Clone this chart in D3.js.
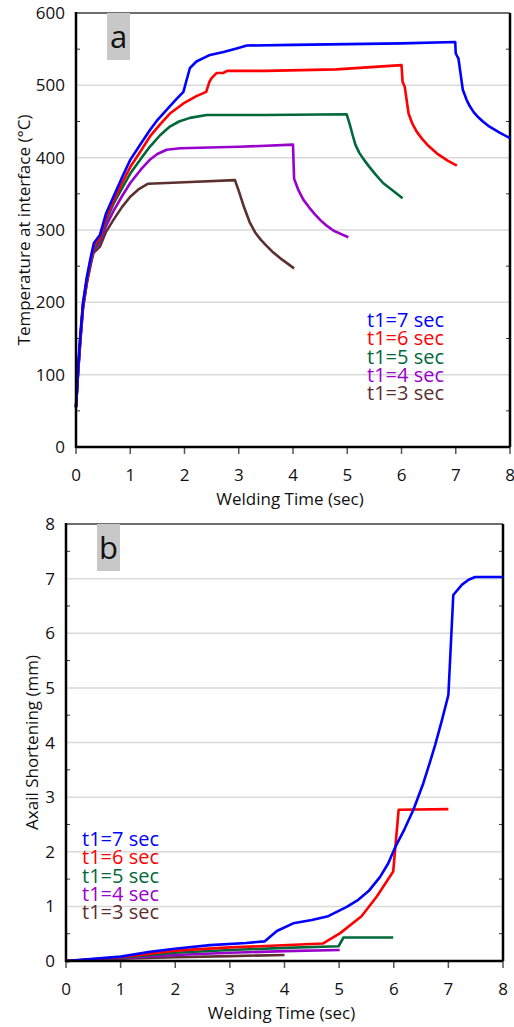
<!DOCTYPE html>
<html>
<head>
<meta charset="utf-8">
<script src="https://cdn.jsdelivr.net/npm/d3@7/dist/d3.min.js"></script>
<style>
  body { margin: 0; background: #fff; }
  svg { display: block; font-family: "Open Sans", sans-serif; }
</style>
</head>
<body>
<svg id="chart"></svg>
<script>
// series labels + colours (same order in both panels)
const seriesNames = ["t1=7 sec", "t1=6 sec", "t1=5 sec", "t1=4 sec", "t1=3 sec"]
const seriesColors = ["#0000ff", "#ff0000", "#00683a", "#9900cc", "#5c3030"]

const xTicks = [0, 1, 2, 3, 4, 5, 6, 7, 8]
const tempTicks = [0, 100, 200, 300, 400, 500, 600]
const shortTicks = [0, 1, 2, 3, 4, 5, 6, 7, 8]

// (a) temperature at interface, [time s, temp C]
const temp7 = [[0,55],[0.04,110],[0.08,155],[0.13,200],[0.2,235],[0.27,262],[0.33,282],[0.44,293],[0.55,322],[0.69,346],[0.85,373],[1.0,397],[1.2,420],[1.36,438],[1.5,452],[1.67,466],[1.85,481],[1.98,491],[2.03,505],[2.1,524],[2.22,533],[2.47,542],[2.72,546],[2.96,551],[3.15,555],[4.0,556],[5.0,557],[6.0,558],[6.99,560],[7.0,544],[7.05,537],[7.13,494],[7.2,480],[7.26,471],[7.33,463],[7.4,457],[7.5,450],[7.6,444],[7.8,435],[8.0,427]]
const temp6 = [[0,55],[0.04,108],[0.08,152],[0.13,198],[0.2,232],[0.27,258],[0.33,278],[0.44,289],[0.55,316],[0.69,340],[0.85,365],[1.0,387],[1.2,410],[1.36,429],[1.55,446],[1.73,461],[1.98,475],[2.22,485],[2.4,491],[2.46,505],[2.5,510],[2.59,517],[2.71,517],[2.79,520],[3.5,520],[4.8,522],[6.0,528],[6.02,505],[6.06,498],[6.13,461],[6.2,447],[6.28,436],[6.38,426],[6.5,416],[6.65,406],[6.85,396],[7.02,389]]
const temp5 = [[0,55],[0.04,106],[0.08,150],[0.13,196],[0.2,230],[0.27,256],[0.33,275],[0.44,286],[0.55,312],[0.69,336],[0.85,358],[1.0,378],[1.2,399],[1.36,415],[1.55,431],[1.73,443],[1.9,450],[2.1,455],[2.41,459],[3.5,459],[4.99,460],[5.05,445],[5.1,431],[5.15,418],[5.22,407],[5.3,398],[5.4,388],[5.52,377],[5.66,365],[5.85,354],[6.02,344]]
const temp4 = [[0,55],[0.04,105],[0.08,148],[0.13,194],[0.2,228],[0.27,254],[0.33,272],[0.44,283],[0.55,305],[0.69,326],[0.85,347],[1.0,365],[1.2,384],[1.36,397],[1.5,405],[1.67,411],[1.92,413],[3.0,415],[4.0,418],[4.02,371],[4.1,355],[4.19,342],[4.3,331],[4.4,322],[4.5,314],[4.62,306],[4.75,299],[4.9,294],[5.02,290]]
const temp3 = [[0,55],[0.04,104],[0.08,146],[0.13,192],[0.2,226],[0.27,252],[0.32,268],[0.44,277],[0.55,297],[0.69,314],[0.85,332],[1.0,346],[1.15,356],[1.33,364],[2.0,366],[2.93,369],[3.0,354],[3.1,331],[3.2,311],[3.3,297],[3.4,287],[3.5,279],[3.62,270],[3.8,259],[4.02,247]]

// (b) axial shortening, [time s, mm]
const short7 = [[0,0],[1.0,0.08],[1.54,0.17],[2.03,0.23],[2.64,0.29],[3.3,0.33],[3.64,0.36],[3.86,0.55],[4.16,0.69],[4.5,0.75],[4.8,0.82],[5.14,0.99],[5.35,1.12],[5.54,1.28],[5.75,1.54],[5.9,1.79],[6.03,2.09],[6.2,2.42],[6.36,2.77],[6.54,3.25],[6.66,3.63],[6.76,3.96],[6.88,4.4],[7.0,4.87],[7.09,6.7],[7.25,6.89],[7.37,6.98],[7.49,7.03],[8.0,7.03]]
const short6 = [[0,0],[1.0,0.07],[2.0,0.19],[3.0,0.25],[3.55,0.27],[4.7,0.32],[5.02,0.51],[5.41,0.82],[5.69,1.18],[5.99,1.64],[6.09,2.77],[7.0,2.78]]
const short5 = [[0,0],[1.0,0.06],[2.0,0.15],[3.0,0.2],[4.0,0.24],[4.99,0.27],[5.08,0.43],[5.99,0.43]]
const short4 = [[0,0],[1.0,0.05],[2.0,0.11],[3.0,0.15],[4.0,0.18],[5.01,0.2]]
const short3 = [[0,0],[1.0,0.04],[2.0,0.07],[3.0,0.09],[4.0,0.11]]

const W = 514, H = 1027
const svg = d3.select("#chart").attr("width", W).attr("height", H)

const panels = [
  {
    tag: "a", series: [temp7, temp6, temp5, temp4, temp3],
    left: 76, right: 510, top: 13, bottom: 447,
    yMax: 600, yTicks: tempTicks, yMinorStep: 50,
    yTitle: "Temperature at interface (\u00b0C)", yTitleX: 24,
    labelX: 65, legendX: 367, legendY: 327
  },
  {
    tag: "b", series: [short7, short6, short5, short4, short3],
    left: 66, right: 503, top: 524, bottom: 961,
    yMax: 8, yTicks: shortTicks, yMinorStep: 0.5,
    yTitle: "Axail Shortening (mm)", yTitleX: 32,
    labelX: 55, legendX: 82, legendY: 846
  }
]

panels.forEach(p => {
  const x = d3.scaleLinear().domain([0, 8]).range([p.left, p.right])
  const y = d3.scaleLinear().domain([0, p.yMax]).range([p.bottom, p.top])
  const g = svg.append("g")

  // gridlines
  g.selectAll(".grid").data(p.yTicks.filter(v => v > 0 && v < p.yMax)).enter()
    .append("line")
    .attr("x1", p.left).attr("x2", p.right)
    .attr("y1", d => y(d)).attr("y2", d => y(d))
    .attr("stroke", "#d9d9d9").attr("stroke-width", 1.5)

  // minor ticks, inside the plot
  const minors = d3.range(p.yMinorStep, p.yMax, p.yMinorStep * 2)
  g.selectAll(".minor").data(minors).enter()
    .append("line")
    .attr("x1", p.left).attr("x2", p.left + 4)
    .attr("y1", d => y(d)).attr("y2", d => y(d))
    .attr("stroke", "#333").attr("stroke-width", 1)
  g.selectAll(".minorR").data(minors).enter()
    .append("line")
    .attr("x1", p.right - 4).attr("x2", p.right)
    .attr("y1", d => y(d)).attr("y2", d => y(d))
    .attr("stroke", "#333").attr("stroke-width", 1)

  // x ticks below axis
  g.selectAll(".xt").data(xTicks).enter()
    .append("line")
    .attr("x1", d => x(d)).attr("x2", d => x(d))
    .attr("y1", p.bottom).attr("y2", p.bottom + 7)
    .attr("stroke", "#555").attr("stroke-width", 1.5)

  // frame
  g.append("line").attr("x1", p.left).attr("x2", p.right).attr("y1", p.top).attr("y2", p.top)
    .attr("stroke", "#6e6e6e").attr("stroke-width", 2)
  g.append("line").attr("x1", p.right).attr("x2", p.right).attr("y1", p.top).attr("y2", p.bottom)
    .attr("stroke", "#000").attr("stroke-width", 2.5)

  // label box
  g.append("rect").attr("x", p.left + 31).attr("y", p.top).attr("width", 23).attr("height", 47)
    .attr("fill", "#c8c8c8")
  g.append("text").attr("x", p.left + 42.5).attr("y", p.top + 35)
    .attr("text-anchor", "middle").attr("font-size", 31).attr("fill", "#111").text(p.tag)

  // curves
  const line = d3.line().x(d => x(d[0])).y(d => y(d[1]))
  p.series.slice().reverse().forEach((s, i) => {
    const k = p.series.length - 1 - i
    g.append("path").datum(s).attr("d", line)
      .attr("fill", "none").attr("stroke", seriesColors[k])
      .attr("stroke-width", 2.6).attr("stroke-linejoin", "round")
  })

  // axes lines
  g.append("line").attr("x1", p.left).attr("x2", p.right).attr("y1", p.bottom).attr("y2", p.bottom)
    .attr("stroke", "#000").attr("stroke-width", 2.5)
  g.append("line").attr("x1", p.left).attr("x2", p.left).attr("y1", p.top - 1).attr("y2", p.bottom + 1)
    .attr("stroke", "#000").attr("stroke-width", 2.5)

  // tick labels
  g.selectAll(".yl").data(p.yTicks).enter()
    .append("text")
    .attr("x", p.labelX).attr("y", d => y(d) + 6)
    .attr("text-anchor", "end").attr("font-size", 17).attr("fill", "#111")
    .text(d => d)
  g.selectAll(".xl").data(xTicks).enter()
    .append("text")
    .attr("x", d => x(d)).attr("y", p.bottom + 34)
    .attr("text-anchor", "middle").attr("font-size", 17).attr("fill", "#111")
    .text(d => d)

  // axis titles
  g.append("text").attr("x", (p.left + p.right) / 2 - 3).attr("y", p.bottom + 58)
    .attr("text-anchor", "middle").attr("font-size", 17).attr("fill", "#111")
    .text("Welding Time (sec)")
  g.append("text")
    .attr("transform", `translate(${p.yTitleX + 6},${(p.top + p.bottom) / 2}) rotate(-90)`)
    .attr("text-anchor", "middle").attr("font-size", 17).attr("fill", "#111")
    .text(p.yTitle)

  // legend
  g.selectAll(".lg").data(seriesNames).enter()
    .append("text")
    .attr("x", p.legendX).attr("y", (d, i) => p.legendY + i * 18.3)
    .attr("font-size", 20).attr("fill", (d, i) => seriesColors[i])
    .text(d => d)
})
</script>
</body>
</html>
